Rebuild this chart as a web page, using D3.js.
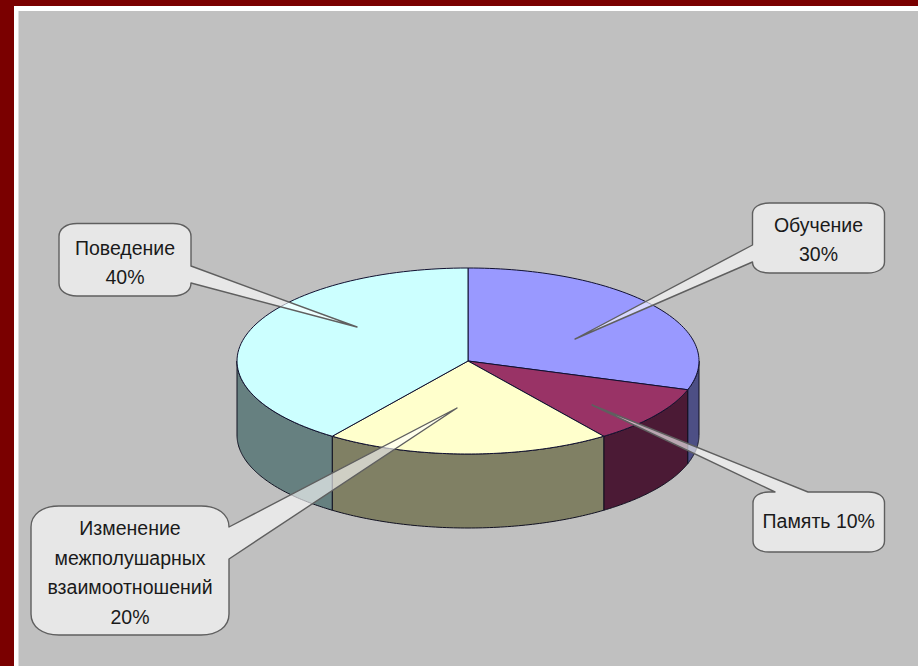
<!DOCTYPE html>
<html><head><meta charset="utf-8">
<script src="https://cdn.jsdelivr.net/npm/d3@7/dist/d3.min.js"></script>
<style>html,body{margin:0;padding:0;background:#7a0000;overflow:hidden}svg{display:block}</style>
</head><body><svg id="c" width="918" height="666"></svg>
<script>
const categories = ["Обучение", "Память", "Изменение межполушарных взаимоотношений", "Поведение"];
const values = [30, 10, 20, 40];
const topColors = ["#9999ff", "#993366", "#ffffcc", "#ccffff"];
const sideColors = ["#4d4f85", "#4b1a35", "#808064", "#668080"];
const labelLines = [["Обучение", "30%"], ["Память 10%"], ["Изменение", "межполушарных", "взаимоотношений", "20%"], ["Поведение", "40%"]];

const W = 918, H = 666;
const svg = d3.select("#c");
svg.append("rect").attr("width", W).attr("height", H).attr("fill", "#7a0000");
svg.append("rect").attr("x", 14).attr("y", 6).attr("width", W - 14).attr("height", H - 6).attr("fill", "#ffffff");
svg.append("rect").attr("x", 18.5).attr("y", 11).attr("width", W - 18.5).attr("height", H - 11).attr("fill", "#c0c0c0");

// Pie layout: ellipse with a vertical extrusion
const x = d3.scaleLinear().domain([-1, 1]).range([237, 699]);
const y = d3.scaleLinear().domain([-1, 1]).range([268, 454]);
const depth = 74;
const arcs = d3.pie().sort(null).value(d => d)(values);
const px = a => x(Math.sin(a)), py = a => y(-Math.cos(a));
const sample = (a0, a1) => d3.range(0, 81).map(i => a0 + (a1 - a0) * i / 80);
const line = d3.line();

// Sides: only the front half of the rim (90deg to 270deg) is visible
const lo = Math.PI / 2, hi = 3 * Math.PI / 2;
arcs.forEach((d, i) => {
  const a0 = Math.max(d.startAngle, lo), a1 = Math.min(d.endAngle, hi);
  if (a1 <= a0) return;
  const s = sample(a0, a1);
  const pts = s.map(a => [px(a), py(a)]).concat(s.slice().reverse().map(a => [px(a), py(a) + depth]));
  svg.append("path").attr("d", line(pts) + "Z").attr("fill", sideColors[i])
    .attr("stroke", "#101020").attr("stroke-width", 1).attr("stroke-linejoin", "round");
});
// Top faces
arcs.forEach((d, i) => {
  const pts = [[x(0), y(0)]].concat(sample(d.startAngle, d.endAngle).map(a => [px(a), py(a)]));
  svg.append("path").attr("d", line(pts) + "Z").attr("fill", topColors[i])
    .attr("stroke", "#101030").attr("stroke-width", 1).attr("stroke-linejoin", "round");
});

// Callouts
const boxes = [
  {x0: 752.5, x1: 884.5, y0: 203, y1: 273, rx: 17, ry: 11, side: "left",  b0: 245, b1: 262, tip: [575, 339]},
  {x0: 753,   x1: 884.5, y0: 492, y1: 552, rx: 16, ry: 11, side: "top",   b0: 775, b1: 808, tip: [592, 405]},
  {x0: 31,    x1: 229,   y0: 506, y1: 635, rx: 28, ry: 21, side: "right", b0: 527, b1: 559, tip: [457, 408]},
  {x0: 59,    x1: 191,   y0: 223.5, y1: 296, rx: 18, ry: 13, side: "right", b0: 266, b1: 283, tip: [357, 327]}
];
const textBase = [232, 528, 535, 255];
const lineStep = [29, 0, 29.7, 29];
const k = 0.6;

function calloutPath(b) {
  const p = d3.path(), rx = b.rx, ry = b.ry;
  const cx = rx * (1 - k), cy = ry * (1 - k);
  p.moveTo(b.x0 + rx, b.y0);
  if (b.side === "top") { p.lineTo(b.b0, b.y0); p.lineTo(b.tip[0], b.tip[1]); p.lineTo(b.b1, b.y0); }
  p.lineTo(b.x1 - rx, b.y0);
  p.bezierCurveTo(b.x1 - cx, b.y0, b.x1, b.y0 + cy, b.x1, b.y0 + ry);
  if (b.side === "right") { p.lineTo(b.x1, b.b0); p.lineTo(b.tip[0], b.tip[1]); p.lineTo(b.x1, b.b1); }
  p.lineTo(b.x1, b.y1 - ry);
  p.bezierCurveTo(b.x1, b.y1 - cy, b.x1 - cx, b.y1, b.x1 - rx, b.y1);
  p.lineTo(b.x0 + rx, b.y1);
  p.bezierCurveTo(b.x0 + cx, b.y1, b.x0, b.y1 - cy, b.x0, b.y1 - ry);
  if (b.side === "left") { p.lineTo(b.x0, b.b1); p.lineTo(b.tip[0], b.tip[1]); p.lineTo(b.x0, b.b0); }
  p.lineTo(b.x0, b.y0 + ry);
  p.bezierCurveTo(b.x0, b.y0 + cy, b.x0 + cx, b.y0, b.x0 + rx, b.y0);
  p.closePath();
  return p.toString();
}

boxes.forEach((b, i) => {
  svg.append("path").attr("d", calloutPath(b))
    .attr("fill", "#ffffff").attr("fill-opacity", 0.62)
    .attr("stroke", "#5f5f5f").attr("stroke-width", 1.4).attr("stroke-linejoin", "round");
  const cx = (b.x0 + b.x1) / 2;
  svg.append("text").attr("text-anchor", "middle")
    .attr("font-family", "'Liberation Sans', Arial, sans-serif").attr("font-size", 19.5).attr("fill", "#1a1a1a")
    .selectAll("tspan").data(labelLines[i]).join("tspan")
    .attr("x", cx).attr("y", (d, n) => textBase[i] + n * lineStep[i]).text(d => d);
});
</script></body></html>
